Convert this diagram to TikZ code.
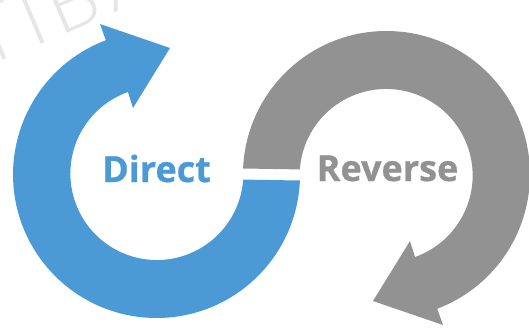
\documentclass[tikz,border=0pt]{standalone}
\usepackage{fontspec}
\newfontfamily\lblfont{Open Sans}[BoldFeatures={FakeBold=0.7}]
\newfontfamily\markfont{Lato Light}[LetterSpace=10]
\definecolor{ringblue}{HTML}{4B9AD6}
\definecolor{ringgrey}{HTML}{929292}
\definecolor{markgrey}{HTML}{E6E6E6}
\tikzset{
  lbl/.style={font=\lblfont\bfseries\fontsize{36}{40}\selectfont, inner sep=0pt, anchor=base},
  mark text/.style={font=\markfont\fontsize{80}{86}\selectfont, text=markgrey, inner sep=0pt, rotate=23, anchor=base west}
}
\newcommand{\ringpath}{(299.9,146.5) arc[start angle=-2.4, end angle=-249.3, radius=143.5]
  -- (100,303) -- (170,279) -- (133,219) -- (128,235)
  arc[start angle=109.5, end angle=356, radius=86.5] -- cycle}
\begin{document}
\begin{tikzpicture}[x=1pt,y=1pt]
\useasboundingbox (0,0) rectangle (529,327);
\begin{scope}
  \clip (0,0) rectangle (529,327);
  \node[mark text] (wm) at (-17,258) {ТІВА};
\end{scope}
\fill[ringblue] \ringpath;
\begin{scope}[rotate around={180:(271.5,152.5)}]
  \fill[ringgrey] \ringpath;
\end{scope}
\node[lbl,text=ringblue] (direct) at (156.5,145) {Direct};
\node[lbl,text=ringgrey] (reverse) at (387.5,146) {Reverse};
\end{tikzpicture}
\end{document}
